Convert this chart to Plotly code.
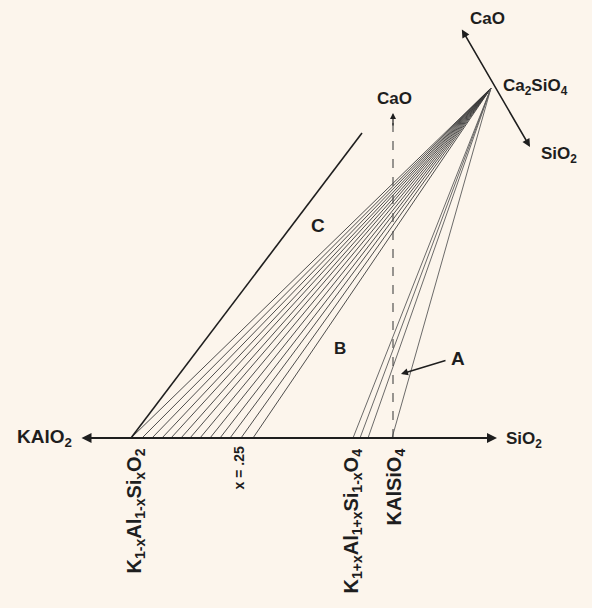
import plotly.graph_objects as go

# Schematic composition diagram, drawn in page-like coordinates (y grows downward)
base_y = 438                      # KAlO2 - SiO2 join
join_left, join_right = 80, 497   # arrow tips of the join
apex = (491, 88)                  # Ca2SiO4
cao_axis = [(461, 28), (530, 147)]  # CaO <-> SiO2 direction through Ca2SiO4
cao_dash_x = 393                  # projection of CaO onto the join
cao_dash_top = 113

# tie-line feet on the join
fan_b_x = [131, 142, 152, 162, 171, 181, 190, 200, 210, 220, 230, 241, 253]
fan_a_x = [353, 360, 368, 392]
line_c = [(131, 438), (362, 133)]

ink = "#1e1e1e"
font_main = dict(family="Liberation Sans, Arial, sans-serif", color=ink)

fig = go.Figure()

# tie lines of field B
for x0 in fan_b_x:
    fig.add_trace(go.Scatter(x=[x0, apex[0]], y=[base_y, apex[1]], mode="lines",
                             line=dict(color="#3a3a3a", width=0.9), hoverinfo="skip"))
# tie lines of field A
for x0 in fan_a_x:
    fig.add_trace(go.Scatter(x=[x0, apex[0]], y=[base_y, apex[1]], mode="lines",
                             line=dict(color="#5a5a5a", width=0.9), hoverinfo="skip"))
# boundary line C
fig.add_trace(go.Scatter(x=[p[0] for p in line_c], y=[p[1] for p in line_c], mode="lines",
                         line=dict(color=ink, width=1.6), hoverinfo="skip"))
# dashed CaO projection
fig.add_trace(go.Scatter(x=[cao_dash_x, cao_dash_x], y=[base_y, cao_dash_top + 6], mode="lines",
                         line=dict(color="#444", width=1.1, dash="dash"), hoverinfo="skip"))

ann = []
# join KAlO2 <-> SiO2 with arrowheads at both ends
ann.append(dict(x=join_right, y=base_y, ax=join_left, ay=base_y, xref="x", yref="y",
                axref="x", ayref="y", showarrow=True, arrowhead=2, arrowside="end+start",
                arrowsize=1, arrowwidth=2, arrowcolor=ink, text=""))
# CaO / SiO2 direction through Ca2SiO4
ann.append(dict(x=cao_axis[1][0], y=cao_axis[1][1], ax=cao_axis[0][0], ay=cao_axis[0][1],
                xref="x", yref="y", axref="x", ayref="y", showarrow=True, arrowhead=2,
                arrowside="end+start", arrowsize=1, arrowwidth=1.6, arrowcolor=ink, text=""))
# arrowhead of dashed CaO projection
ann.append(dict(x=cao_dash_x, y=cao_dash_top, ax=cao_dash_x, ay=cao_dash_top + 14,
                xref="x", yref="y", axref="x", ayref="y", showarrow=True, arrowhead=2,
                arrowsize=1, arrowwidth=1.2, arrowcolor=ink, text=""))
# pointer for field A
ann.append(dict(x=401, y=374, ax=447, ay=360, xref="x", yref="y", axref="x", ayref="y",
                showarrow=True, arrowhead=2, arrowsize=1, arrowwidth=1.4, arrowcolor=ink, text=""))


def label(x, y, text, size=15, angle=0, bold=True, xanchor="center", yanchor="middle"):
    ann.append(dict(x=x, y=y, xref="x", yref="y", text=text, showarrow=False,
                    textangle=angle, xanchor=xanchor, yanchor=yanchor,
                    font=dict(size=size, weight="bold" if bold else "normal", **font_main)))


label(44, 438, "KAlO<sub>2</sub>", 19)
label(504, 440, "SiO<sub>2</sub>", 17, xanchor="left")
label(487, 18, "CaO", 17)
label(394, 98, "CaO", 17)
label(501, 87, "Ca<sub>2</sub>SiO<sub>4</sub>", 17, xanchor="left")
label(539, 155, "SiO<sub>2</sub>", 17, xanchor="left")
label(318, 225, "C", 19)
label(340, 348, "B", 17)
label(458, 358, "A", 19)
label(135, 447, "K<sub>1-x</sub>Al<sub>1-x</sub>Si<sub>x</sub>O<sub>2</sub>", 20, angle=-90, yanchor="top")
label(238, 445, "x = .25", 14, angle=-90, yanchor="top")
label(352, 447, "K<sub>1+x</sub>Al<sub>1+x</sub>Si<sub>1-x</sub>O<sub>4</sub>", 20, angle=-90, yanchor="top")
label(395, 447, "KAlSiO<sub>4</sub>", 20, angle=-90, yanchor="top")

fig.update_layout(
    width=592, height=608, margin=dict(l=0, r=0, t=0, b=0),
    paper_bgcolor="#fcf5ec", plot_bgcolor="#fcf5ec", showlegend=False,
    xaxis=dict(range=[0, 592], visible=False, fixedrange=True),
    yaxis=dict(range=[608, 0], visible=False, fixedrange=True),
    annotations=ann,
)

fig.write_html("out.html")
